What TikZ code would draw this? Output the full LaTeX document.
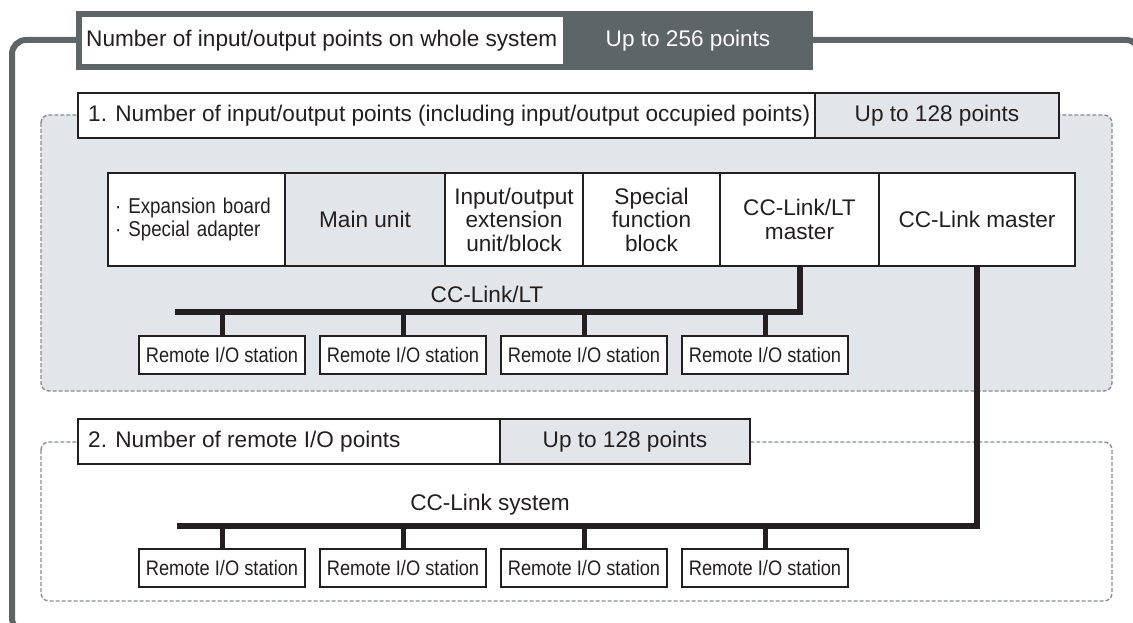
\documentclass[tikz,border=0pt]{standalone}
\usepackage{fontspec}
\setmainfont{Liberation Sans}
\newfontfamily\narrowfont[FakeStretch=0.87]{Liberation Sans}
\usetikzlibrary{positioning}

\definecolor{framegray}{HTML}{5D6567}
\definecolor{areagray}{HTML}{E2E6EB}
\definecolor{dashgray}{HTML}{878D92}
\definecolor{inkblack}{HTML}{231F20}

\tikzset{
  txt/.style={font=\fontsize{22.6}{23.5}\selectfont, text=inkblack, inner sep=0pt},
  topbox/.style={txt, draw=framegray, line width=6pt, minimum height=53pt,
                 anchor=north west, outer sep=0pt},
  hdbox/.style={txt, draw=inkblack, line width=2pt, minimum height=45pt,
                anchor=north west, outer sep=0pt},
  unitbox/.style={txt, draw=inkblack, line width=2pt, fill=white, minimum height=93pt,
                  anchor=north west, outer sep=0pt, align=center},
  station/.style={draw=inkblack, line width=1.6pt, fill=white, minimum width=166pt,
                  minimum height=38pt, inner sep=0pt, text=inkblack,
                  font=\narrowfont\fontsize{21}{22}\selectfont},
  area/.style={draw=dashgray, line width=1.4pt, dash pattern=on 4pt off 2pt,
               rounded corners=8pt},
  bus/.style={draw=inkblack, line width=6pt},
  drop/.style={draw=inkblack, line width=5pt}
}

\begin{document}
\begin{tikzpicture}[x=1pt,y=-1pt]
  \useasboundingbox (0,0) rectangle (1133,623);
  % whole system
  \draw[framegray, line width=6pt, rounded corners=14pt] (12,40) rectangle (1140,632);
  \node[topbox, fill=white, minimum width=487pt] (top) at (79,14) {};
  \node[txt, anchor=west] (toptxt) at ([xshift=7pt]top.west)
       {Number of input/output points on whole system};
  \node[topbox, fill=framegray, minimum width=244pt, text=white] (topval) at (top.north east)
       {Up to 256 points};
  %
  % 1. input/output points
  \draw[area, fill=areagray] (41,115) rectangle (1112,391);
  \node[hdbox, fill=white, minimum width=737pt] (sec1) at (78,93) {};
  \node[txt, anchor=west] (sec1txt) at ([xshift=10pt]sec1.west)
       {1. Number of input/output points (including input/output occupied points)};
  \node[hdbox, fill=areagray, minimum width=244pt] (sec1val) at (sec1.north east)
       {Up to 128 points};
  %
  \node[unitbox, minimum width=177pt, text width=163pt, align=left,
        font=\narrowfont\fontsize{21.5}{22.5}\selectfont] (exp) at (108,173)
       {· Expansion board\\· Special adapter};
  \node[unitbox, minimum width=160pt, fill=areagray] (main) at (exp.north east) {Main unit};
  \node[unitbox, minimum width=138pt] (ioext) at (main.north east)
       {Input/output\\extension\\unit/block};
  \node[unitbox, minimum width=137pt] (sfb) at (ioext.north east)
       {Special\\function\\block};
  \node[unitbox, minimum width=159pt] (ltm) at (sfb.north east) {CC-Link/LT\\master};
  \node[unitbox, minimum width=196pt] (ccm) at (ltm.north east) {CC-Link master};
  %
  % 2. remote I/O points
  \draw[area] (41,442) rectangle (1112,601);
  \node[hdbox, fill=white, minimum width=422pt] (sec2) at (78,419) {};
  \node[txt, anchor=west] (sec2txt) at ([xshift=10pt]sec2.west)
       {2. Number of remote I/O points};
  \node[hdbox, fill=areagray, minimum width=250pt] (sec2val) at (sec2.north east)
       {Up to 128 points};
  %
  \foreach \x [count=\i] in {222,403,584,765}
    {\node[station] (lt\i) at (\x,355) {Remote I/O station};
     \node[station] (cc\i) at (\x,568) {Remote I/O station};}
  %
  % networks
  \coordinate (ltend) at (175,312);
  \coordinate (ccend) at (177,526);
  \draw[bus] (ltm.south) |- (ltend);
  \draw[bus] (ccm.south) |- (ccend);
  \foreach \i in {1,...,4}
    {\draw[drop] (lt\i.north) -- (lt\i.north |- ltend);
     \draw[drop] (cc\i.north) -- (cc\i.north |- ccend);}
  \node[txt, anchor=base] (ltlbl) at (487,302) {CC-Link/LT};
  \node[txt, anchor=base] (cclbl) at (490,510) {CC-Link system};
\end{tikzpicture}
\end{document}
